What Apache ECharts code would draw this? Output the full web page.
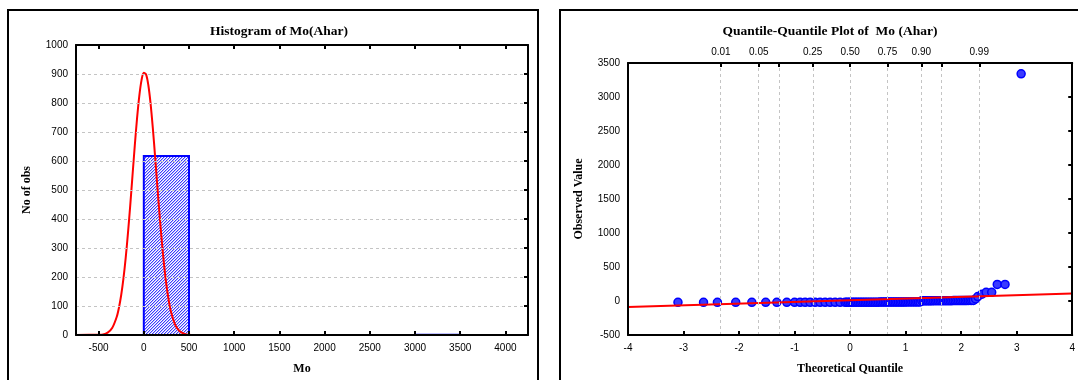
<!DOCTYPE html>
<html><head><meta charset="utf-8">
<script src="https://cdn.jsdelivr.net/npm/echarts@6/dist/echarts.min.js"></script>
<style>html,body{margin:0;padding:0;background:#fff}#c{width:1078px;height:380px}</style>
</head><body><div id="c"></div>
<script>
// ---------- Histogram data ----------
const histBinStart = [0, 3000];
const histBinEnd = [500, 3500];
const histCounts = [617, 1];
const histXTicks = [-500, 0, 500, 1000, 1500, 2000, 2500, 3000, 3500, 4000];
const curveX = [-750, -500, -450, -400, -350, -300, -275, -250, -225, -200, -175, -150, -125, -100, -75, -50, -25, 0, 25, 50, 75, 100, 125, 150, 175, 200, 225, 250, 275, 300, 350, 400, 450, 500, 550, 4250];
const curveY = [0, 1, 2, 8, 24, 62, 94, 138, 195, 267, 352, 447, 550, 652, 746, 824, 879, 904, 899, 862, 798, 713, 615, 512, 412, 320, 239, 173, 121, 81, 33, 12, 4, 1, 0, 0];

// ---------- Q-Q data ----------
const qqTheoretical = [
  -3.10, -2.64, -2.39, -2.06, -1.77, -1.52, -1.32, -1.14, -1.00,
  -0.90, -0.81, -0.72, -0.63, -0.54, -0.45, -0.36, -0.27, -0.18, -0.09,
  -0.06, -0.03, 0.00, 0.03, 0.06, 0.09, 0.12, 0.15, 0.18, 0.21, 0.24, 0.27, 0.30, 0.33, 0.36, 0.39, 0.42, 0.45, 0.48, 0.51, 0.54, 0.57, 0.60, 0.63, 0.66, 0.69, 0.72, 0.75, 0.78, 0.81, 0.84, 0.87, 0.90, 0.93, 0.96, 0.99, 1.02, 1.05, 1.08, 1.11, 1.14, 1.17, 1.20, 1.23, 1.26,
  1.29, 1.32, 1.35, 1.38, 1.41, 1.44, 1.47, 1.50, 1.53, 1.56, 1.59, 1.62, 1.65, 1.68, 1.71, 1.74, 1.77, 1.80, 1.83, 1.86, 1.89, 1.92, 1.95, 1.98, 2.01, 2.04, 2.07, 2.10, 2.13, 2.16, 2.19, 2.22,
  2.26, 2.30, 2.375, 2.45, 2.55, 2.65, 2.79, 3.08
];
const qqObserved = [
  -20, -20, -20, -19, -19, -19, -19, -19, -19,
  -19, -19, -19, -19, -19, -19, -19, -19, -19, -19,
  -18, -18, -18, -18, -18, -18, -18, -18, -18, -18, -18, -18, -17, -17, -17, -17, -17, -17, -17, -17, -16, -16, -16, -16, -16, -16, -16, -16, -15, -15, -15, -15, -15, -15, -15, -15, -14, -14, -14, -14, -14, -14, -14, -14, -13,
  2, 2, 3, 3, 3, 3, 3, 4, 4, 4, 4, 4, 4, 5, 5, 5, 5, 5, 5, 6, 6, 6, 6, 6, 7, 7, 7, 7, 8, 8, 8, 8,
  30, 65, 100, 128, 128, 243, 243, 3341
];
const qqLineX = [-4, 4];
const qqLineY = [-88, 110];
const probTickZ = [-2.326, -1.645, -1.282, -0.674, 0, 0.674, 1.282, 1.645, 2.326];
const probLabelZ = [-2.326, -1.645, -0.674, 0, 0.674, 1.282, 2.326];
const probLabelText = ['0.01', '0.05', '0.25', '0.50', '0.75', '0.90', '0.99'];

// hatch pattern
const cv = document.createElement('canvas'); cv.width = 3; cv.height = 3;
const cx = cv.getContext('2d');
cx.fillStyle = '#ffffff'; cx.fillRect(0, 0, 3, 3);
for (let i = 0; i < 3; i++) {
  cx.fillStyle = '#3c3cff'; cx.fillRect(i, 2 - i, 1, 1);
  cx.fillStyle = '#b8b8ff'; cx.fillRect((i + 1) % 3, 2 - i, 1, 1);
}
const hatch = { image: cv, repeat: 'repeat' };

const serif = 'Liberation Serif';
const sans = 'Liberation Sans';
const plain = v => String(v);
const axisLineStyle = { show: true, onZero: false, lineStyle: { color: '#000', width: 2 } };
const gridDash = { color: '#c4c4c4', width: 1, type: [3, 3] };
const labelStyle = { fontFamily: sans, fontSize: 10, color: '#000' };
const nameStyle = { fontFamily: serif, fontSize: 12, fontWeight: 'bold', color: '#000' };
const titleStyle = { fontFamily: serif, fontSize: 13.5, fontWeight: 'bold', color: '#000' };

const histData = histCounts.map((c, i) => [histBinStart[i], histBinEnd[i], c]);
const curveData = curveX.map((x, i) => [x, curveY[i]]);
const qqData = qqTheoretical.map((z, i) => [z, qqObserved[i]]);
const qqLine = qqLineX.map((x, i) => [x, qqLineY[i]]);

const chart = echarts.init(document.getElementById('c'), null, { renderer: 'canvas' });
chart.setOption({
  animation: false,
  backgroundColor: '#fff',
  title: [
    { text: 'Histogram of Mo(Ahar)', left: 274, top: 20, textAlign: 'center', textStyle: titleStyle },
    { text: 'Quantile-Quantile Plot of  Mo (Ahar)', left: 825, top: 20, textAlign: 'center', textStyle: titleStyle }
  ],
  graphic: [
    { type: 'rect', shape: { x: 8, y: 10, width: 530, height: 390 }, style: { fill: 'none', stroke: '#000', lineWidth: 2 }, silent: true },
    { type: 'rect', shape: { x: 560, y: 10, width: 540, height: 390 }, style: { fill: 'none', stroke: '#000', lineWidth: 2 }, silent: true }
  ],
  grid: [
    { left: 76, top: 45, width: 452, height: 294 },
    { left: 628, top: 63, width: 448, height: 276 }
  ],
  xAxis: [
    { gridIndex: 0, type: 'value', min: -750, max: 4250, position: 'bottom', z: 5,
      axisLine: axisLineStyle,
      axisTick: { show: true, inside: true, length: 4, customValues: histXTicks, lineStyle: { color: '#000', width: 2 } },
      axisLabel: { customValues: histXTicks, margin: 8, formatter: plain, ...labelStyle },
      splitLine: { show: false },
      name: 'Mo', nameLocation: 'middle', nameGap: 28, nameTextStyle: nameStyle },
    { gridIndex: 0, type: 'value', min: -750, max: 4250, position: 'top', z: 5,
      axisLine: axisLineStyle,
      axisTick: { show: true, inside: true, length: 4, customValues: histXTicks, lineStyle: { color: '#000', width: 2 } },
      axisLabel: { show: false }, splitLine: { show: false } },
    { gridIndex: 1, type: 'value', min: -4, max: 4, interval: 1, position: 'bottom', z: 5,
      axisLine: axisLineStyle,
      axisTick: { show: true, inside: true, length: 4, lineStyle: { color: '#000', width: 2 } },
      axisLabel: { margin: 8, formatter: plain, ...labelStyle },
      splitLine: { show: false },
      name: 'Theoretical Quantile', nameLocation: 'middle', nameGap: 28, nameTextStyle: nameStyle },
    { gridIndex: 1, type: 'value', min: -4, max: 4, position: 'top', z: 5,
      axisLine: axisLineStyle,
      axisTick: { show: true, inside: true, length: 4, customValues: probTickZ, lineStyle: { color: '#000', width: 2 } },
      axisLabel: { customValues: probLabelZ, margin: 6, ...labelStyle,
        formatter: v => { let b = 0; probLabelZ.forEach((z, i) => { if (Math.abs(z - v) < Math.abs(probLabelZ[b] - v)) b = i; }); return probLabelText[b]; } },
      splitLine: { show: false } }
  ],
  yAxis: [
    { gridIndex: 0, type: 'value', min: 0, max: 1000, interval: 100, position: 'left', z: 5,
      axisLine: axisLineStyle, axisTick: { show: false },
      axisLabel: { margin: 8, formatter: plain, ...labelStyle },
      splitLine: { show: true, lineStyle: gridDash },
      name: 'No of obs', nameLocation: 'middle', nameGap: 43, nameTextStyle: nameStyle },
    { gridIndex: 0, type: 'value', min: 0, max: 1000, interval: 100, position: 'right', z: 5,
      axisLine: axisLineStyle,
      axisTick: { show: true, inside: true, length: 4, lineStyle: { color: '#000', width: 2 } },
      axisLabel: { show: false }, splitLine: { show: false } },
    { gridIndex: 1, type: 'value', min: -500, max: 3500, interval: 500, position: 'left', z: 5,
      axisLine: axisLineStyle, axisTick: { show: false },
      axisLabel: { margin: 8, formatter: plain, ...labelStyle },
      splitLine: { show: false },
      name: 'Observed Value', nameLocation: 'middle', nameGap: 43, nameTextStyle: nameStyle },
    { gridIndex: 1, type: 'value', min: -500, max: 3500, interval: 500, position: 'right', z: 5,
      axisLine: axisLineStyle,
      axisTick: { show: true, inside: true, length: 4, lineStyle: { color: '#000', width: 2 } },
      axisLabel: { show: false }, splitLine: { show: false } }
  ],
  series: [
    { type: 'custom', xAxisIndex: 0, yAxisIndex: 0, z: 2, data: histData,
      encode: { x: [0, 1], y: 2 },
      renderItem: (params, api) => {
        const p0 = api.coord([api.value(0), 0]);
        const p1 = api.coord([api.value(1), api.value(2)]);
        return { type: 'rect',
          shape: { x: p0[0], y: p1[1], width: p1[0] - p0[0], height: p0[1] - p1[1] },
          style: { fill: hatch, stroke: '#0000ff', lineWidth: 2 } };
      } },
    { type: 'line', xAxisIndex: 0, yAxisIndex: 0, z: 3, data: curveData, symbol: 'none',
      smooth: 0.3, lineStyle: { color: '#ff0000', width: 2 } },
    { type: 'scatter', xAxisIndex: 3, yAxisIndex: 2, z: 1, data: [], silent: true,
      markLine: { silent: true, symbol: ['none', 'none'], label: { show: false },
        lineStyle: gridDash, emphasis: { disabled: true },
        data: probTickZ.map(z => ({ xAxis: z })) } },
    { type: 'scatter', xAxisIndex: 2, yAxisIndex: 2, z: 2, data: qqData, symbol: 'circle', symbolSize: 8,
      itemStyle: { color: '#3a3aff', borderColor: '#0000ff', borderWidth: 1.5, opacity: 1 } },
    { type: 'line', xAxisIndex: 2, yAxisIndex: 2, z: 3, data: qqLine, symbol: 'none',
      lineStyle: { color: '#ff0000', width: 2 } }
  ]
});
</script></body></html>
